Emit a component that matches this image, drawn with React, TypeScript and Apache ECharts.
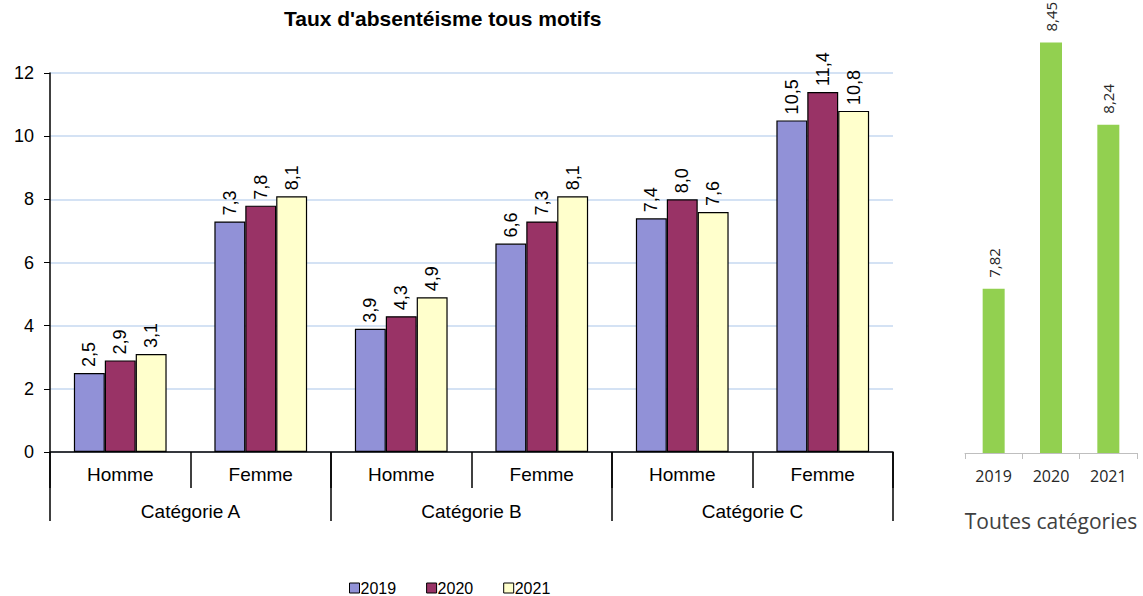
import React, { useEffect, useRef } from "react";
import * as echarts from "echarts";

const subCategories = ["Homme", "Femme", "Homme", "Femme", "Homme", "Femme"];
const mainCategories = ["Catégorie A", "Catégorie B", "Catégorie C"];
const years = ["2019", "2020", "2021"];
const values2019 = [2.5, 7.3, 3.9, 6.6, 7.4, 10.5];
const values2020 = [2.9, 7.8, 4.3, 7.3, 8.0, 11.4];
const values2021 = [3.1, 8.1, 4.9, 8.1, 7.6, 10.8];
const totalValues = [7.82, 8.45, 8.24];
const yTicks = [0, 2, 4, 6, 8, 10, 12];

const colors = ["#9191d7", "#993366", "#ffffcc"];

export default function App() {
  const ref = useRef<HTMLDivElement>(null);
  useEffect(() => {
    if (!ref.current) return;
    const chart = echarts.init(ref.current, null, { renderer: "svg" });
    const font = "Liberation Sans, Arial, sans-serif";
    const mk = (name: string, data: number[], i: number) => ({
      type: "bar",
      name,
      xAxisIndex: 0,
      yAxisIndex: 0,
      data,
      barGap: "0%",
      barCategoryGap: "34%",
      itemStyle: { color: colors[i], borderColor: "#000", borderWidth: 1.2 },
      label: {
        show: true,
        position: "top",
        rotate: 90,
        align: "left",
        verticalAlign: "middle",
        distance: 6,
        fontFamily: font,
        fontSize: 18,
        color: "#000",
        formatter: (p: any) => p.value.toFixed(1).replace(".", ","),
      },
    });
    chart.setOption({
      animation: false,
      title: {
        text: "Taux d'absentéisme tous motifs",
        left: 284,
        top: 8,
        padding: 0,
        textStyle: { fontFamily: font, fontSize: 21, fontWeight: "bold", color: "#000" },
      },
      legend: {
        data: years,
        left: 349,
        top: 580,
        padding: 0,
        itemWidth: 10,
        itemHeight: 10,
        itemGap: 30,
        icon: "rect",
        itemStyle: { borderColor: "#000", borderWidth: 1 },
        textStyle: { fontFamily: font, fontSize: 16, lineHeight: 16, color: "#000", padding: [0, 0, 0, -4] },
      },
      grid: [
        { left: 50, right: 250, top: 73, bottom: 144 },
        { left: 965, right: 6, top: 23, bottom: 143 },
      ],
      xAxis: [
        {
          type: "category",
          gridIndex: 0,
          data: subCategories,
          axisLine: { lineStyle: { color: "#000", width: 1.5 } },
          axisTick: { show: true, length: 36, lineStyle: { color: "#000", width: 1.5 } },
          axisLabel: { margin: 13, fontFamily: font, fontSize: 19, color: "#000" },
        },
        {
          type: "category",
          gridIndex: 0,
          position: "bottom",
          data: mainCategories,
          axisLine: { show: false },
          axisTick: { show: true, length: 69, lineStyle: { color: "#000", width: 1.5 } },
          axisLabel: { margin: 50, fontFamily: font, fontSize: 19, color: "#000" },
        },
        {
          type: "category",
          gridIndex: 1,
          data: years,
          axisLine: { lineStyle: { color: "#bfbfbf", width: 1 } },
          axisTick: { show: true, length: 6, lineStyle: { color: "#bfbfbf" } },
          axisLabel: { margin: 15, fontFamily: "Open Sans", fontSize: 16, color: "#262626" },
          name: "Toutes catégories",
          nameLocation: "middle",
          nameGap: 57,
          nameTextStyle: { fontFamily: "Open Sans", fontSize: 21, color: "#404040" },
        },
      ],
      yAxis: [
        {
          type: "value",
          gridIndex: 0,
          min: yTicks[0],
          max: yTicks[yTicks.length - 1],
          interval: 2,
          axisLine: { show: true, lineStyle: { color: "#000", width: 1.5 } },
          axisTick: { show: true, length: 6, lineStyle: { color: "#000" } },
          axisLabel: { margin: 16, fontFamily: font, fontSize: 18, color: "#000" },
          splitLine: { lineStyle: { color: "#c6d9f1", width: 1.5 } },
        },
        {
          type: "value",
          gridIndex: 1,
          min: 7.4,
          max: 8.5,
          show: false,
          splitLine: { show: false },
        },
      ],
      series: [
        mk("2019", values2019, 0),
        mk("2020", values2020, 1),
        mk("2021", values2021, 2),
        {
          type: "bar",
          xAxisIndex: 2,
          yAxisIndex: 1,
          data: totalValues,
          barWidth: 22,
          itemStyle: { color: "#92d050" },
          label: {
            show: true,
            position: "top",
            rotate: 90,
            align: "left",
            verticalAlign: "middle",
            distance: 11,
            fontFamily: "Open Sans",
            fontSize: 15,
            color: "#262626",
            formatter: (p: any) => p.value.toFixed(2).replace(".", ","),
          },
        },
      ],
    });
    return () => chart.dispose();
  }, []);
  return <div ref={ref} style={{ width: 1143, height: 596, position: "absolute", left: 0, top: 0 }} />;
}
